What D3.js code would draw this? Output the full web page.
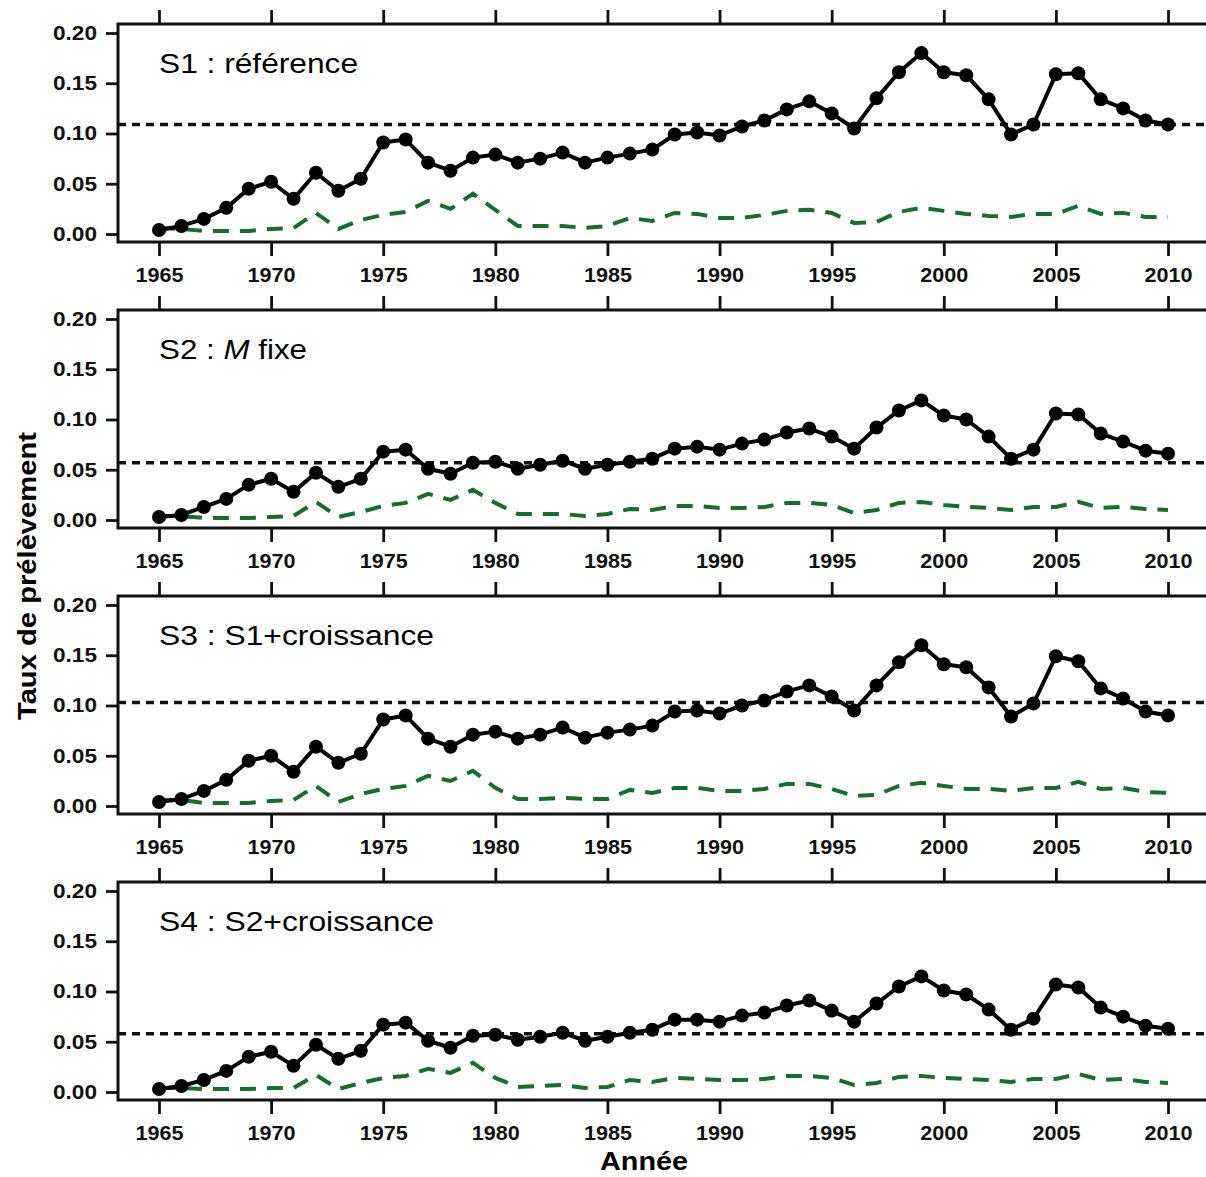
<!DOCTYPE html>
<html>
<head>
<meta charset="utf-8">
<script src="https://cdn.jsdelivr.net/npm/d3@7"></script>
<style>
    body { margin: 0; background: #fff; }
    text { font-family: "Liberation Sans", Arial, sans-serif; }
</style>
</head>
<body>
<div id="chart"></div>
<script>
// Data
// ============================================================================
const years = d3.range(1965, 2011);
const yearTicks = [1965, 1970, 1975, 1980, 1985, 1990, 1995, 2000, 2005, 2010];
const rateTicks = [0, 0.05, 0.10, 0.15, 0.20];

const panelNames = ["S1", "S2", "S3", "S4"];
const meanLevels = [0.109, 0.057, 0.103, 0.058];

const rateS1 = [0.004, 0.008, 0.015, 0.026, 0.045, 0.052, 0.035, 0.061, 0.043, 0.055,
    0.091, 0.094, 0.071, 0.063, 0.076, 0.079, 0.071, 0.075, 0.081, 0.071,
    0.076, 0.080, 0.084, 0.099, 0.101, 0.098, 0.107, 0.113, 0.124, 0.132,
    0.120, 0.105, 0.135, 0.161, 0.180, 0.161, 0.158, 0.134, 0.099, 0.109,
    0.159, 0.160, 0.134, 0.125, 0.113, 0.109];
const sdS1 = [0.006, 0.005, 0.003, 0.003, 0.003, 0.005, 0.006, 0.021, 0.005, 0.014,
    0.019, 0.022, 0.033, 0.025, 0.040, 0.024, 0.008, 0.008, 0.008, 0.006,
    0.008, 0.016, 0.013, 0.021, 0.020, 0.016, 0.016, 0.019, 0.023, 0.024,
    0.021, 0.011, 0.012, 0.022, 0.026, 0.023, 0.020, 0.018, 0.017, 0.020,
    0.020, 0.028, 0.020, 0.021, 0.017, 0.017];

const rateS2 = [0.003, 0.005, 0.013, 0.021, 0.035, 0.041, 0.028, 0.047, 0.033, 0.041,
    0.068, 0.070, 0.051, 0.046, 0.057, 0.058, 0.051, 0.055, 0.059, 0.051,
    0.055, 0.058, 0.061, 0.071, 0.073, 0.070, 0.076, 0.080, 0.087, 0.091,
    0.083, 0.071, 0.092, 0.109, 0.119, 0.104, 0.100, 0.083, 0.061, 0.070,
    0.106, 0.105, 0.086, 0.078, 0.069, 0.066];
const sdS2 = [0.004, 0.004, 0.002, 0.002, 0.002, 0.003, 0.004, 0.018, 0.003, 0.008,
    0.014, 0.017, 0.026, 0.020, 0.030, 0.017, 0.006, 0.006, 0.006, 0.004,
    0.006, 0.011, 0.010, 0.014, 0.014, 0.012, 0.012, 0.013, 0.017, 0.017,
    0.015, 0.007, 0.010, 0.017, 0.018, 0.015, 0.013, 0.012, 0.010, 0.013,
    0.013, 0.018, 0.012, 0.013, 0.011, 0.010];

const rateS3 = [0.004, 0.007, 0.015, 0.026, 0.045, 0.050, 0.034, 0.059, 0.043, 0.052,
    0.086, 0.090, 0.067, 0.059, 0.071, 0.074, 0.067, 0.071, 0.078, 0.068,
    0.073, 0.076, 0.080, 0.094, 0.095, 0.092, 0.100, 0.105, 0.114, 0.120,
    0.109, 0.095, 0.120, 0.143, 0.160, 0.141, 0.138, 0.118, 0.089, 0.102,
    0.149, 0.144, 0.117, 0.107, 0.094, 0.090];
const sdS3 = [0.006, 0.006, 0.003, 0.003, 0.003, 0.005, 0.006, 0.020, 0.004, 0.012,
    0.017, 0.020, 0.030, 0.025, 0.035, 0.018, 0.007, 0.007, 0.008, 0.007,
    0.007, 0.016, 0.013, 0.018, 0.018, 0.015, 0.015, 0.017, 0.022, 0.022,
    0.017, 0.010, 0.011, 0.020, 0.023, 0.020, 0.017, 0.017, 0.015, 0.018,
    0.018, 0.024, 0.017, 0.018, 0.014, 0.013];

const rateS4 = [0.003, 0.006, 0.012, 0.021, 0.035, 0.040, 0.026, 0.047, 0.033, 0.041,
    0.067, 0.069, 0.051, 0.044, 0.056, 0.057, 0.052, 0.055, 0.059, 0.051,
    0.055, 0.059, 0.062, 0.072, 0.072, 0.070, 0.076, 0.079, 0.086, 0.091,
    0.081, 0.070, 0.088, 0.105, 0.115, 0.101, 0.097, 0.082, 0.062, 0.073,
    0.107, 0.104, 0.084, 0.075, 0.066, 0.063];
const sdS4 = [0.004, 0.004, 0.003, 0.003, 0.003, 0.004, 0.004, 0.017, 0.003, 0.009,
    0.014, 0.016, 0.023, 0.019, 0.029, 0.014, 0.005, 0.006, 0.007, 0.004,
    0.005, 0.012, 0.010, 0.014, 0.013, 0.012, 0.012, 0.013, 0.016, 0.016,
    0.014, 0.007, 0.009, 0.015, 0.016, 0.014, 0.013, 0.012, 0.010, 0.013,
    0.013, 0.018, 0.012, 0.013, 0.010, 0.009];

const rates = [rateS1, rateS2, rateS3, rateS4];
const sds = [sdS1, sdS2, sdS3, sdS4];

// Layout
// ============================================================================
const width = 1206,
    height = 1177,
    boxLeft = 118,
    boxRight = 1212,
    panelTop0 = 24,
    panelStep = 286,
    boxHeight = 218,
    green = "#12702a";

const svg = d3.select("#chart")
    .append("svg")
        .attr("width", width)
        .attr("height", height);

const xScale = d3.scaleLinear()
    .domain([1965, 2010])
    .range([159, 1168]);

// Panels
// ============================================================================
panelNames.forEach((name, i) => {
    const top = panelTop0 + i * panelStep,
        bottom = top + boxHeight;

    const yScale = d3.scaleLinear()
        .domain([0, 0.20])
        .range([top + 210, top + 9]);

    const g = svg.append("g");

    // box
    g.append("rect")
        .attr("x", boxLeft)
        .attr("y", top)
        .attr("width", boxRight - boxLeft)
        .attr("height", boxHeight)
        .attr("fill", "none")
        .attr("stroke", "#111")
        .attr("stroke-width", 3);

    // bottom axis with labels
    const xAxis = g.append("g")
        .attr("transform", "translate(0," + bottom + ")")
        .call(d3.axisBottom(xScale).tickValues(yearTicks).tickSize(14).tickFormat(d3.format("d")));
    xAxis.select(".domain").remove();
    xAxis.selectAll("line").attr("stroke", "#111").attr("stroke-width", 2.8);
    xAxis.selectAll("text")
        .attr("fill", "#111")
        .attr("font-size", 20)
        .attr("font-weight", "bold")
        .attr("y", 26)
        .attr("dy", "0.71em")
        .attr("textLength", 48)
        .attr("lengthAdjust", "spacingAndGlyphs");

    // top ticks, no labels
    const xTop = g.append("g")
        .attr("transform", "translate(0," + top + ")")
        .call(d3.axisTop(xScale).tickValues(yearTicks).tickSize(14).tickFormat(""));
    xTop.select(".domain").remove();
    xTop.selectAll("line").attr("stroke", "#111").attr("stroke-width", 2.8);

    // y axis
    const yAxis = g.append("g")
        .attr("transform", "translate(" + boxLeft + ",0)")
        .call(d3.axisLeft(yScale).tickValues(rateTicks).tickSize(12).tickFormat(d3.format(".2f")));
    yAxis.select(".domain").remove();
    yAxis.selectAll("line").attr("stroke", "#111").attr("stroke-width", 2.8);
    yAxis.selectAll("text")
        .attr("fill", "#111")
        .attr("font-size", 20)
        .attr("font-weight", "bold")
        .attr("x", -21)
        .attr("textLength", 44)
        .attr("lengthAdjust", "spacingAndGlyphs");

    // mean level
    g.append("line")
        .attr("x1", boxLeft)
        .attr("x2", width)
        .attr("y1", yScale(meanLevels[i]))
        .attr("y2", yScale(meanLevels[i]))
        .attr("stroke", "#111")
        .attr("stroke-width", 3.5)
        .style("stroke-dasharray", "8, 6");

    // green dashed series
    g.append("path")
        .datum(sds[i])
        .attr("fill", "none")
        .attr("stroke", green)
        .attr("stroke-width", 4)
        .style("stroke-dasharray", "16, 11")
        .attr("d", d3.line()
            .x((d, j) => xScale(years[j]))
            .y(d => yScale(d)));

    // black series
    g.append("path")
        .datum(rates[i])
        .attr("fill", "none")
        .attr("stroke", "#000")
        .attr("stroke-width", 4)
        .attr("stroke-linejoin", "round")
        .attr("d", d3.line()
            .x((d, j) => xScale(years[j]))
            .y(d => yScale(d)));

    g.selectAll("circle")
        .data(rates[i])
        .enter()
        .append("circle")
            .attr("cx", (d, j) => xScale(years[j]))
            .attr("cy", d => yScale(d))
            .attr("r", 7)
            .attr("fill", "#000");

    // panel title
    const title = g.append("text")
        .attr("x", 159)
        .attr("y", top + 49)
        .attr("font-size", 27)
        .attr("fill", "#000")
        .attr("lengthAdjust", "spacingAndGlyphs");
    if (i === 0) {
        title.text(name + " : référence").attr("textLength", 199);
    } else if (i === 1) {
        title.append("tspan").text(name + " : ");
        title.append("tspan").attr("font-style", "italic").text("M");
        title.append("tspan").text(" fixe");
        title.attr("textLength", 148);
    } else {
        title.text(name + " : " + panelNames[i - 2] + "+croissance").attr("textLength", 275);
    }
});

// Axis titles
// ============================================================================
svg.append("text")
    .attr("x", 644)
    .attr("y", 1170)
    .attr("text-anchor", "middle")
    .attr("font-size", 25)
    .attr("font-weight", "bold")
    .attr("textLength", 88)
    .attr("lengthAdjust", "spacingAndGlyphs")
    .text("Année");

svg.append("text")
    .attr("transform", "translate(36,576) rotate(-90)")
    .attr("text-anchor", "middle")
    .attr("font-size", 26)
    .attr("font-weight", "bold")
    .attr("textLength", 288)
    .attr("lengthAdjust", "spacingAndGlyphs")
    .text("Taux de prélèvement");
</script>
</body>
</html>
